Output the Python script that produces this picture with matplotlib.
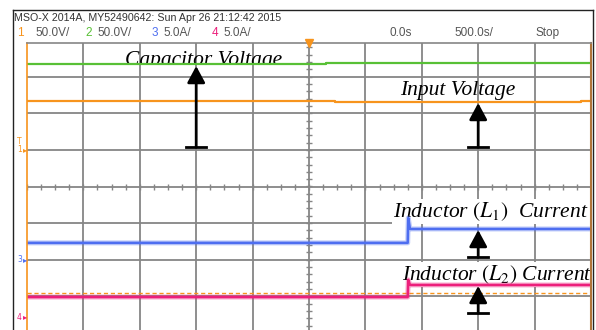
import numpy as np
import matplotlib.pyplot as plt
from matplotlib.patches import Rectangle
from matplotlib.lines import Line2D

plt.rcParams['mathtext.fontset'] = 'stix'

# ---- scope traces: time and level both in screen divisions ------------------
cap_t = [-5.0, 0.30, 0.30, 5.0]
cap_v = [3.34, 3.34, 3.36, 3.36]

vin_t = [-5.0, 0.46, 0.46, 4.83, 4.83, 5.0]
vin_v = [2.34, 2.34, 2.30, 2.30, 2.34, 2.34]

il1_t = [-5.0, 1.75, 1.76, 1.79, 5.0]
il1_v = [-1.54, -1.54, -0.86, -1.16, -1.16]

il2_t = [-5.0, 1.75, 1.76, 1.79, 5.0]
il2_v = [-3.02, -3.02, -2.55, -2.69, -2.69]

ref_level = -2.92

# ---- header texts ------------------------------------------------------------
title_line = 'MSO-X 2014A, MY52490642: Sun Apr 26 21:12:42 2015'
ch_nums = ['1', '2', '3', '4']
ch_scales = ['50.0V/', '50.0V/', '5.0A/', '5.0A/']
time_ref = '0.0s'
time_scale = '500.0s/'
run_state = 'Stop'

# ---- annotations -------------------------------------------------------------
labels = ['Capacitor Voltage', 'Input Voltage',
          r'Inductor $(L_1)$  Current', r'Inductor $(L_2)$ Current']
label_xy = [(-3.26, 3.33), (1.61, 2.50), (1.49, -0.83), (1.65, -2.55)]
arrow_x = [-2.0, 3.0, 3.0, 3.0]
arrow_tip = [3.29, 2.28, -1.19, -2.72]
arrow_base = [1.08, 1.08, -1.93, -3.46]

orange = '#f7941d'
green = '#58c036'
blue = '#4e6ef0'
pink = '#ec1f7b'
grid_c = '#868686'

W, H = 596, 330
def px(x, y):
    return x / W, 1 - y / H

fig = plt.figure(figsize=(W / 100, H / 100), dpi=100)
fig.patch.set_facecolor('white')

ax = fig.add_axes([27 / W, 0, (591 - 27) / W, (H - 43) / H])
ax.set_xlim(-5, 5)
ax.set_ylim(-3.92, 3.92)
ax.set_xticks([])
ax.set_yticks([])
ax.spines['bottom'].set_visible(False)
ax.spines['top'].set_color(grid_c)
ax.spines['top'].set_linewidth(1.2)
ax.spines['left'].set_color(orange)
ax.spines['left'].set_linestyle((0, (1, 1)))
ax.spines['left'].set_linewidth(1.2)
ax.spines['right'].set_color('#b0743a')
ax.spines['right'].set_linewidth(1.5)

# graticule
for gx in range(-4, 5):
    ax.axvline(gx, color=grid_c, lw=1.3, zorder=1)
for gy in range(-3, 4):
    ax.axhline(gy, color=grid_c, lw=1.3, zorder=1)
minor_x = np.arange(-5, 5.01, 0.25)
minor_y = np.arange(-3.8, 3.81, 0.2)
ax.plot(minor_x, np.zeros_like(minor_x), ls='none', marker='|', ms=4,
        mew=1, color=grid_c, zorder=1)
ax.plot(np.zeros_like(minor_y), minor_y, ls='none', marker='_', ms=4,
        mew=1, color=grid_c, zorder=1)
ax.plot([0], [3.92], marker='v', ms=6, color=orange, clip_on=False, zorder=5)

# traces
ax.axhline(ref_level, color=orange, lw=1, dashes=(3, 2), zorder=2)
ax.plot(cap_t, cap_v, color=green, lw=1.6, zorder=2)
ax.plot(vin_t, vin_v, color=orange, lw=1.6, zorder=2)
for t, v, c in [(il1_t, il1_v, blue), (il2_t, il2_v, pink)]:
    ax.plot(t, v, color=c, lw=3.6, alpha=0.35, zorder=2)
    ax.plot(t, v, color=c, lw=1.8, zorder=2.1)

# labels and arrows
for i, (lab, (lx, ly)) in enumerate(zip(labels, label_xy)):
    kw = dict(fontsize=15.5, family='Liberation Serif', style='italic',
              ha='left', va='baseline', color='black', zorder=1.5)
    if i >= 2:
        kw['bbox'] = dict(facecolor='white', edgecolor='none', pad=1)
    t = ax.text(lx, ly, lab, **kw)
    if i == 0:
        t.set_clip_on(True)
        t.set_clip_path(Rectangle((-5, 3.31), 10, 1, transform=ax.transData))

for x, tip, base in zip(arrow_x, arrow_tip, arrow_base):
    ax.annotate('', xy=(x, tip), xytext=(x, base),
                arrowprops=dict(arrowstyle='-|>,head_length=0.5,head_width=0.27',
                                color='black', lw=2, shrinkA=0, shrinkB=0,
                                mutation_scale=20), zorder=4)
    ax.plot([x - 0.18, x + 0.18], [base, base], color='black', lw=2, zorder=4)

# frame around the screen
frame = dict(color='#222222', lw=1)
fig.add_artist(Line2D([13 / W, 13 / W], [0, 1 - 10 / H], **frame))
fig.add_artist(Line2D([13 / W, 593 / W], [1 - 10 / H, 1 - 10 / H], **frame))
fig.add_artist(Line2D([593 / W, 593 / W], [0, 1 - 10 / H], **frame))

# header
hfont = ['Liberation Sans Narrow', 'Liberation Sans', 'DejaVu Sans']
fig.text(*px(13.5, 18), title_line, fontsize=7.7, family=hfont,
         color='#333333', va='center', ha='left')
ch_colors = [orange, green, blue, pink]
num_x = [17, 85, 152, 212]
scale_x = [35, 97, 163, 223]
for n, s, c, nx, sx in zip(ch_nums, ch_scales, ch_colors, num_x, scale_x):
    fig.text(*px(nx, 33), n, fontsize=8.5, family=hfont, color=c,
             va='center', ha='left')
    fig.text(*px(sx, 33), s, fontsize=8.5, family=hfont, color='#555555',
             va='center', ha='left')
fig.text(*px(390, 33), time_ref, fontsize=8.5, family=hfont,
         color='#555555', va='center', ha='left')
fig.text(*px(454, 33), time_scale, fontsize=8.5, family=hfont,
         color='#555555', va='center', ha='left')
fig.text(*px(536, 33), run_state, fontsize=8.5, family=hfont,
         color='#555555', va='center', ha='left')

# channel markers in the left margin
markers = [('T', orange, 141), ('1', orange, 150), ('3', blue, 260), ('4', pink, 317)]
for lab, c, y in markers:
    fig.text(*px(17, y), lab, fontsize=5.5, color=c, va='center', ha='left')
    if lab != 'T':
        fig.text(*px(23, y), '\u25b8', fontsize=6, color=c, va='center', ha='left')

fig.savefig('out.png', dpi=100)
